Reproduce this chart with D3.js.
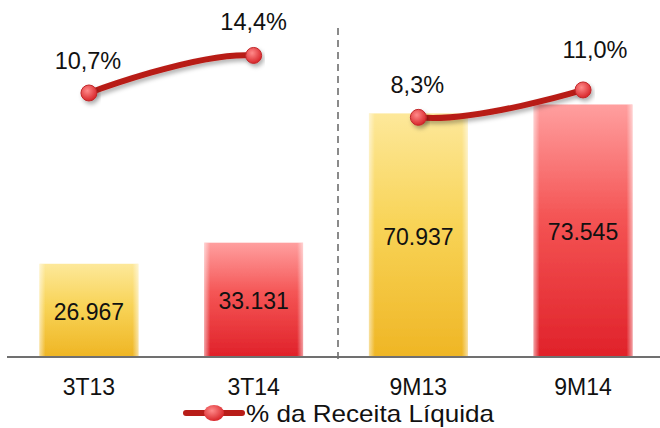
<!DOCTYPE html>
<html lang="pt">
<head>
<meta charset="UTF-8">
<script src="https://d3js.org/d3.v7.min.js"></script>
<style>
  body { margin: 0; background: #fff; }
  svg text { font-family: "Liberation Sans", Arial, sans-serif; fill: #111; }
</style>
</head>
<body>
<div id="chart"></div>
<script>
    // data
    const categories = ["3T13", "3T14", "9M13", "9M14"];
    const ebitda = [26967, 33131, 70937, 73545];
    const margem = [10.7, 14.4, 8.3, 11.0];
    const barLabels = ["26.967", "33.131", "70.937", "73.545"];
    const pctLabels = ["10,7%", "14,4%", "8,3%", "11,0%"];
    const barColors = ["amarelo", "vermelho", "amarelo", "vermelho"];
    const legendLabel = "% da Receita Líquida";

    const width = 660, height = 428;
    const base = 356;

    const svg = d3.select("#chart").append("svg")
        .attr("width", width)
        .attr("height", height);

    const defs = svg.append("defs");

    const grads = {
        amarelo: ["#fde89a", "#f8d458", "#efb625"],
        vermelho: ["#ff9f9f", "#f45454", "#e0222a"]
    };
    Object.keys(grads).forEach(k => {
        const g = defs.append("linearGradient").attr("id", "g-" + k)
            .attr("x1", 0).attr("y1", 0).attr("x2", 0).attr("y2", 1);
        g.append("stop").attr("offset", "0%").attr("stop-color", grads[k][0]);
        g.append("stop").attr("offset", "45%").attr("stop-color", grads[k][1]);
        g.append("stop").attr("offset", "100%").attr("stop-color", grads[k][2]);
        // lighter side edges
        const e = defs.append("linearGradient").attr("id", "e-" + k)
            .attr("x1", 0).attr("y1", 0).attr("x2", 1).attr("y2", 0);
        e.append("stop").attr("offset", "0%").attr("stop-color", "#fff").attr("stop-opacity", 0.55);
        e.append("stop").attr("offset", "6%").attr("stop-color", "#fff").attr("stop-opacity", 0);
        e.append("stop").attr("offset", "94%").attr("stop-color", "#fff").attr("stop-opacity", 0);
        e.append("stop").attr("offset", "100%").attr("stop-color", "#fff").attr("stop-opacity", 0.55);
    });

    const dot = defs.append("radialGradient").attr("id", "dot")
        .attr("cx", "40%").attr("cy", "35%").attr("r", "65%");
    dot.append("stop").attr("offset", "0%").attr("stop-color", "#ff8a8a");
    dot.append("stop").attr("offset", "100%").attr("stop-color", "#d8262a");

    const shadow = defs.append("filter").attr("id", "sombra")
        .attr("x", "-20%").attr("y", "-50%").attr("width", "140%").attr("height", "200%");
    shadow.append("feDropShadow").attr("dx", 2).attr("dy", 3)
        .attr("stdDeviation", 2).attr("flood-color", "#000").attr("flood-opacity", 0.3);

    const soft = defs.append("filter").attr("id", "suave")
        .attr("x", "-5%").attr("y", "-5%").attr("width", "110%").attr("height", "110%");
    soft.append("feGaussianBlur").attr("stdDeviation", 0.7);

    // scales
    const x = d3.scaleBand()
        .domain(categories)
        .range([6.6, 665.4]);
    const barW = x.bandwidth() * 0.6;
    const cx = c => x(c) + x.bandwidth() / 2;

    const y = d3.scaleLinear().domain([0, 80000]).range([base, base - 273.6]);
    const yPct = d3.scaleLinear().domain([0, 20]).range([201.6, -1.4]);

    // separator
    const sepX = (cx(categories[1]) + cx(categories[2])) / 2 + 2;
    svg.append("line")
        .attr("x1", sepX).attr("x2", sepX)
        .attr("y1", 28).attr("y2", base + 7)
        .attr("stroke", "#8a8a8a")
        .attr("stroke-width", 2)
        .attr("stroke-dasharray", "7,5");

    // bars
    const bars = svg.append("g");
    categories.forEach((c, i) => {
        const gb = bars.append("g");
        gb.append("rect")
            .attr("x", cx(c) - barW / 2)
            .attr("y", y(ebitda[i]))
            .attr("width", barW)
            .attr("height", base - y(ebitda[i]))
            .attr("fill", `url(#g-${barColors[i]})`)
            .attr("filter", "url(#suave)");
        gb.append("rect")
            .attr("x", cx(c) - barW / 2)
            .attr("y", y(ebitda[i]))
            .attr("width", barW)
            .attr("height", base - y(ebitda[i]))
            .attr("fill", `url(#e-${barColors[i]})`);
        gb.append("text")
            .attr("x", cx(c))
            .attr("y", (y(ebitda[i]) + base) / 2 + 10)
            .attr("text-anchor", "middle")
            .attr("font-size", 23)
            .text(barLabels[i]);
    });

    // x axis
    svg.append("line")
        .attr("x1", 7).attr("x2", width)
        .attr("y1", base + 1).attr("y2", base + 1)
        .attr("stroke", "#707070")
        .attr("stroke-width", 2);

    svg.append("g").selectAll("text")
        .data(categories)
        .join("text")
        .attr("x", d => cx(d))
        .attr("y", 395)
        .attr("text-anchor", "middle")
        .attr("font-size", 23)
        .text(d => d);

    // line (two segments, curve from whole series)
    const pts = categories.map((c, i) => [cx(c), yPct(margem[i])]);
    const line = d3.line().curve(d3.curveCatmullRom.alpha(0));
    [[0, 1], [2, 3]].forEach((seg, k) => {
        const clip = defs.append("clipPath").attr("id", "clip" + k);
        clip.append("rect")
            .attr("x", pts[seg[0]][0]).attr("y", 0)
            .attr("width", pts[seg[1]][0] - pts[seg[0]][0])
            .attr("height", base);
        svg.append("g").attr("filter", "url(#sombra)")
            .append("path")
            .attr("d", line(pts))
            .attr("clip-path", `url(#clip${k})`)
            .attr("fill", "none")
            .attr("stroke", "#b81d18")
            .attr("stroke-width", 6);
    });

    svg.append("g").selectAll("circle")
        .data(pts)
        .join("circle")
        .attr("cx", d => d[0])
        .attr("cy", d => d[1])
        .attr("r", 8)
        .attr("fill", "url(#dot)")
        .attr("stroke", "#c0282a")
        .attr("stroke-width", 1)
        .attr("filter", "url(#sombra)");

    const pctOff = [24, 25, 24, 32];
    const pctDx = [-1, 0, -1, 12];
    svg.append("g").selectAll("text")
        .data(pts)
        .join("text")
        .attr("x", (d, i) => d[0] + pctDx[i])
        .attr("y", (d, i) => d[1] - pctOff[i])
        .attr("text-anchor", "middle")
        .attr("font-size", 23.5)
        .text((d, i) => pctLabels[i]);

    // legend
    const lg = svg.append("g").attr("transform", "translate(186,413)");
    lg.append("line")
        .attr("x1", 0).attr("x2", 56)
        .attr("stroke", "#b81d18")
        .attr("stroke-width", 6)
        .attr("stroke-linecap", "round");
    lg.append("ellipse")
        .attr("cx", 28).attr("rx", 10).attr("ry", 8)
        .attr("fill", "url(#dot)");
    lg.append("text")
        .attr("x", 60).attr("y", 9)
        .attr("font-size", 24)
        .attr("textLength", 248)
        .attr("lengthAdjust", "spacingAndGlyphs")
        .text(legendLabel);
</script>
</body>
</html>
